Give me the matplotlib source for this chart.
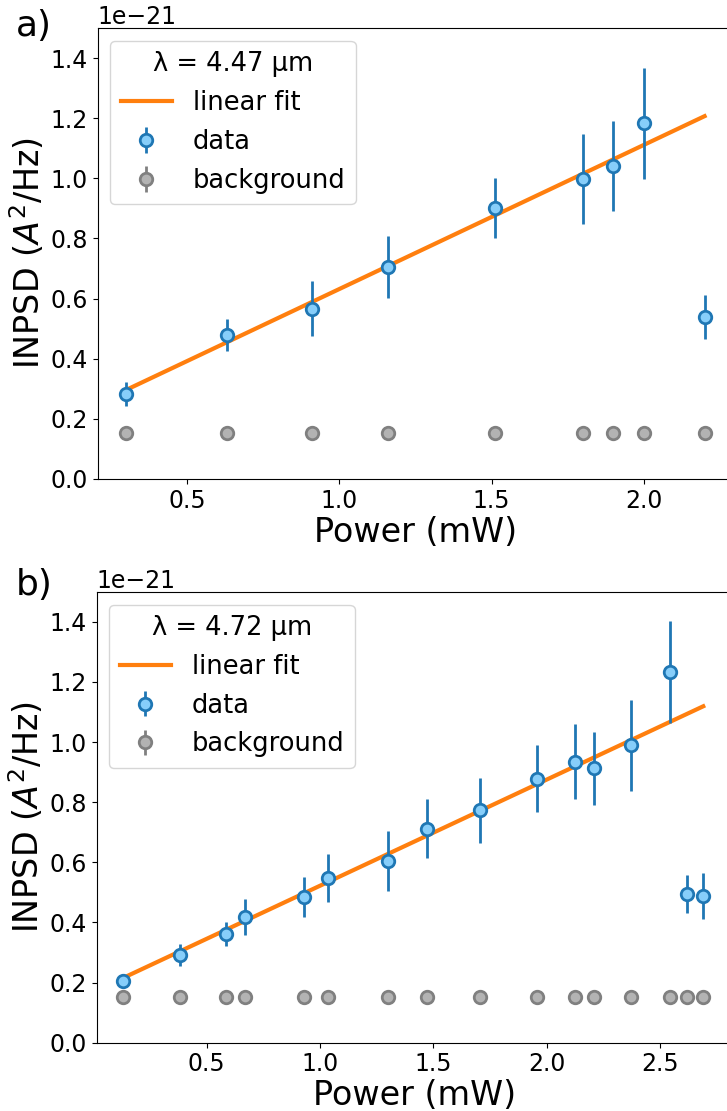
import matplotlib
matplotlib.use('Agg')
import matplotlib.pyplot as plt
from matplotlib.ticker import MultipleLocator
import numpy as np

SCALE = 1e-21

# panel a, lambda = 4.47 um
power_a = np.array([0.30, 0.63, 0.91, 1.16, 1.51, 1.80, 1.90, 2.00, 2.20])
inpsd_a = np.array([0.284, 0.478, 0.567, 0.706, 0.902, 0.999, 1.042, 1.183, 0.540])
err_a = np.array([0.040, 0.053, 0.090, 0.103, 0.100, 0.150, 0.149, 0.185, 0.073])
bg_a = np.array([0.153, 0.153, 0.153, 0.153, 0.153, 0.153, 0.153, 0.153, 0.153])
fit_a = (0.479, 0.153)  # slope, intercept

# panel b, lambda = 4.72 um
power_b = np.array([0.13, 0.384, 0.584, 0.671, 0.928, 1.037, 1.298, 1.470, 1.708,
                    1.958, 2.126, 2.207, 2.374, 2.544, 2.621, 2.691])
inpsd_b = np.array([0.206, 0.291, 0.362, 0.418, 0.484, 0.548, 0.603, 0.712, 0.773,
                    0.878, 0.934, 0.912, 0.989, 1.233, 0.496, 0.489])
err_b = np.array([0.024, 0.036, 0.040, 0.060, 0.066, 0.080, 0.100, 0.099, 0.109,
                  0.111, 0.125, 0.120, 0.152, 0.170, 0.063, 0.076])
bg_b = np.full(len(power_b), 0.151)
fit_b = (0.353, 0.169)

panels = [
    ('a)', 'λ = 4.47 μm', power_a, inpsd_a, err_a, bg_a, fit_a, (0.205, 2.295)),
    ('b)', 'λ = 4.72 μm', power_b, inpsd_b, err_b, bg_b, fit_b, (0.014, 2.82)),
]

W, H = 727, 1111
fig = plt.figure(figsize=(W / 100, H / 100), dpi=100)
ax_rects = [
    [97.5 / W, (H - 479) / H, 636 / W, 451 / H],
    [96.5 / W, (H - 1042.7) / H, 636 / W, 451 / H],
]
label_y = [26, 585]

for rect, ly, (tag, title, x, y, err, bg, fit, xlim) in zip(ax_rects, label_y, panels):
    ax = fig.add_axes(rect)
    xf = np.array([x.min(), x.max()])
    slope, icpt = fit
    ax.plot(xf, (slope * xf + icpt) * SCALE, color='#ff7f0e', lw=3, label='linear fit')
    ax.errorbar(x, y * SCALE, yerr=err * SCALE, fmt='o', color='#1f77b4', ecolor='#1f77b4',
                elinewidth=2, markersize=9, markerfacecolor='#87cefa',
                markeredgecolor='#1f77b4', markeredgewidth=2, label='data')
    ax.errorbar(x, bg * SCALE, yerr=0.004 * SCALE, fmt='o', color='#808080', ecolor='#808080',
                elinewidth=2, markersize=9, markerfacecolor='#b3b3b3',
                markeredgecolor='#808080', markeredgewidth=2, label='background')
    ax.set_xlim(*xlim)
    ax.set_ylim(0, 1.5 * SCALE)
    ax.xaxis.set_major_locator(MultipleLocator(0.5))
    ax.tick_params(labelsize=17)
    ax.yaxis.get_offset_text().set_fontsize(17)
    ax.set_xlabel('Power (mW)', fontsize=24, labelpad=2)
    ax.set_ylabel(r'INPSD ($A^2$/Hz)', fontsize=24, labelpad=2)
    ax.legend(title=title, loc='upper left', fontsize=18.5, title_fontsize=18.5)
    fig.text(16 / W, 1 - ly / H, tag, fontsize=26, va='center', ha='left')

fig.savefig('out.png', dpi=100)
